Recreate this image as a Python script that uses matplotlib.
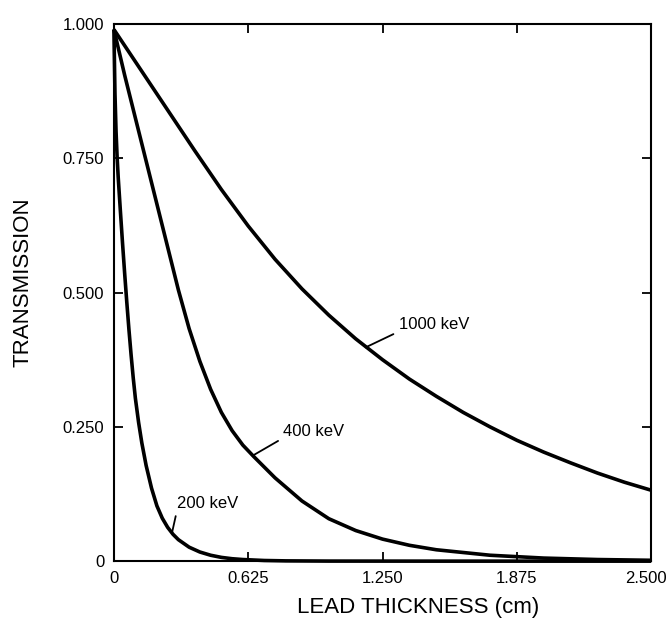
import matplotlib
matplotlib.use('Agg')
import matplotlib.pyplot as plt
import matplotlib.transforms as mtrans

plt.rcParams['font.family'] = ['Liberation Sans', 'DejaVu Sans']

# transmission through lead
x_1000 = [0, 0.125, 0.25, 0.375, 0.5, 0.625, 0.75, 0.875, 1.0, 1.125, 1.25,
          1.375, 1.5, 1.625, 1.75, 1.875, 2.0, 2.125, 2.25, 2.375, 2.5]
t_1000 = [0.99, 0.915, 0.84, 0.765, 0.692, 0.624, 0.562, 0.507, 0.458, 0.414,
          0.375, 0.339, 0.307, 0.277, 0.250, 0.225, 0.203, 0.183, 0.164,
          0.147, 0.132]

x_400 = [0, 0.05, 0.1, 0.15, 0.2, 0.25, 0.3, 0.35, 0.4, 0.45, 0.5, 0.55, 0.6,
         0.65, 0.75, 0.875, 1.0, 1.125, 1.25, 1.375, 1.5, 1.75, 2.0, 2.25, 2.5]
t_400 = [0.99, 0.905, 0.825, 0.745, 0.665, 0.585, 0.505, 0.433, 0.372, 0.320,
         0.277, 0.243, 0.216, 0.195, 0.155, 0.112, 0.079, 0.057, 0.041,
         0.0295, 0.0212, 0.011, 0.0057, 0.003, 0.0016]

x_200 = [0, 0.005, 0.01, 0.015, 0.02, 0.03, 0.04, 0.05, 0.06, 0.07, 0.08,
         0.09, 0.1, 0.115, 0.13, 0.15, 0.175, 0.2, 0.225, 0.25, 0.275, 0.3,
         0.35, 0.4, 0.45, 0.5, 0.55, 0.6, 0.7, 0.8, 1.0, 1.5, 2.0, 2.5]
t_200 = [0.99, 0.87, 0.80, 0.752, 0.715, 0.653, 0.593, 0.536, 0.482, 0.431,
         0.384, 0.341, 0.303, 0.258, 0.220, 0.178, 0.136, 0.103, 0.080, 0.063,
         0.050, 0.040, 0.026, 0.017, 0.011, 0.007, 0.0045, 0.003, 0.0012,
         0.0005, 0.0001, 0, 0, 0]

labels = ['1000 keV', '400 keV', '200 keV']
x_ticks = [0, 0.625, 1.25, 1.875, 2.5]
x_ticklabels = ['0', '0.625', '1.250', '1.875', '2.500']
y_ticks = [0, 0.25, 0.5, 0.75, 1.0]
y_ticklabels = ['0', '0.250', '0.500', '0.750', '1.000']

fig = plt.figure(figsize=(6.7, 6.18), dpi=100)
ax = fig.add_axes([0.170, 0.092, 0.802, 0.869])

for xs, ts in [(x_1000, t_1000), (x_400, t_400), (x_200, t_200)]:
    ax.plot(xs, ts, color='black', lw=2.6, solid_joinstyle='round',
            solid_capstyle='butt', clip_on=False)

# leader lines: (point on curve, text anchor)
leaders = [((1.171, 0.398), (1.325, 0.440)),
           ((0.648, 0.197), (0.788, 0.242)),
           ((0.271, 0.054), (0.294, 0.108))]
for lab, (tip, txt) in zip(labels, leaders):
    ax.annotate(lab, xy=tip, xytext=txt, ha='left', va='center', fontsize=12,
                arrowprops=dict(arrowstyle='-', lw=1.3, color='black',
                                relpos=(0, 0.05), shrinkA=2, shrinkB=0))

ax.set_xlim(0, 2.5)
ax.set_ylim(0, 1.0)
ax.set_xticks(x_ticks)
ax.set_xticklabels(x_ticklabels)
ax.set_yticks(y_ticks)
ax.set_yticklabels(y_ticklabels)
ax.tick_params(direction='in', length=6.5, width=1.3, labelsize=12, pad=7,
               top=True, right=True)
for s in ax.spines.values():
    s.set_linewidth(1.5)

# the last x label sits a little left of the corner, as in the print
last = ax.get_xticklabels()[-1]
last.set_transform(last.get_transform() +
                   mtrans.ScaledTranslation(-4 / 72, 0, fig.dpi_scale_trans))

fig.text(418 / 670, 1 - 608 / 618, 'LEAD THICKNESS (cm)', ha='center',
         va='center', fontsize=16)
fig.text(23 / 670, 1 - 282 / 618, 'TRANSMISSION', ha='center', va='center',
         rotation=90, fontsize=16)

fig.savefig('out.png', dpi=100)
